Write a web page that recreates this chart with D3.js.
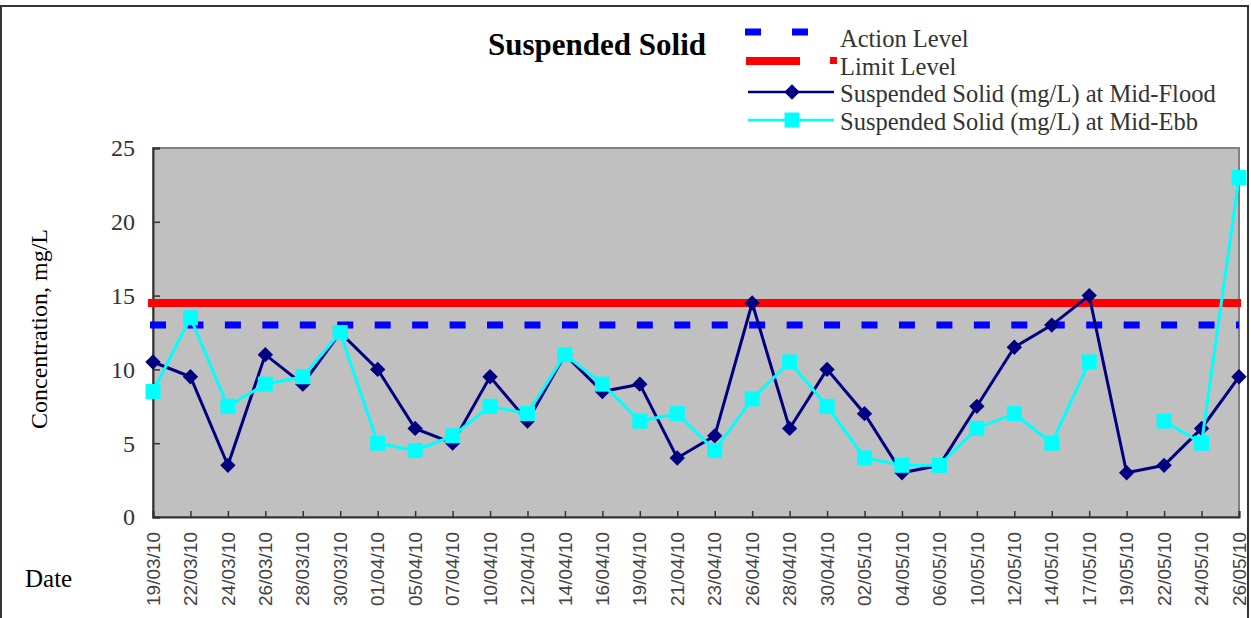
<!DOCTYPE html>
<html>
<head>
<meta charset="utf-8">
<script src="https://cdn.jsdelivr.net/npm/d3@7"></script>
<style>
  body { margin: 0; background: #fff; }
  svg { display: block; }
</style>
</head>
<body>
<div id="chart"></div>
<script>
// data
var dates = ["19/03/10", "22/03/10", "24/03/10", "26/03/10", "28/03/10", "30/03/10",
  "01/04/10", "05/04/10", "07/04/10", "10/04/10", "12/04/10", "14/04/10", "16/04/10",
  "19/04/10", "21/04/10", "23/04/10", "26/04/10", "28/04/10", "30/04/10", "02/05/10",
  "04/05/10", "06/05/10", "10/05/10", "12/05/10", "14/05/10", "17/05/10", "19/05/10",
  "22/05/10", "24/05/10", "26/05/10"];

var midFlood = [10.5, 9.5, 3.5, 11, 9, 12.5, 10, 6, 5, 9.5, 6.5, 11, 8.5, 9, 4, 5.5,
  14.5, 6, 10, 7, 3, 3.5, 7.5, 11.5, 13, 15, 3, 3.5, 6, 9.5];

var midEbb = [8.5, 13.5, 7.5, 9, 9.5, 12.5, 5, 4.5, 5.5, 7.5, 7, 11, 9, 6.5, 7, 4.5,
  8, 10.5, 7.5, 4, 3.5, 3.5, 6, 7, 5, 10.5, null, 6.5, 5, 23];

var actionLevel = 13;
var limitLevel = 14.5;
var yTicks = [0, 5, 10, 15, 20, 25];

var legendLabels = ["Action Level", "Limit Level",
  "Suspended Solid (mg/L) at Mid-Flood", "Suspended Solid (mg/L) at Mid-Ebb"];

var width = 1251, height = 618;
var serif = "'Liberation Serif', 'Times New Roman', serif";

var svg = d3.select("#chart")
  .append("svg")
    .attr("width", width)
    .attr("height", height);

// outer frame
svg.append("rect")
  .attr("x", 1).attr("y", 6)
  .attr("width", 1247).attr("height", 700)
  .attr("fill", "#fff")
  .attr("stroke", "#333")
  .attr("stroke-width", 2);

var x = d3.scalePoint()
  .domain(dates)
  .range([153, 1239]);

var y = d3.scaleLinear()
  .domain([0, 25])
  .range([517, 148]);

// plot area
svg.append("rect")
  .attr("x", x.range()[0]).attr("y", y(25))
  .attr("width", x.range()[1] - x.range()[0])
  .attr("height", y(0) - y(25))
  .attr("fill", "#c0c0c0")
  .attr("stroke", "#808080")
  .attr("stroke-width", 2);

// y axis, ticks pointing inward
var yAxis = svg.append("g")
  .attr("transform", "translate(" + x.range()[0] + ",0)")
  .call(d3.axisRight(y).tickValues(yTicks).tickSize(7).tickFormat(""));
yAxis.select(".domain").attr("stroke", "#333").attr("stroke-width", 2);
yAxis.selectAll(".tick line").attr("stroke", "#333").attr("stroke-width", 1.5);

svg.append("g")
  .selectAll("text")
  .data(yTicks)
  .enter()
  .append("text")
    .attr("x", 135)
    .attr("y", function(d) { return y(d); })
    .attr("dy", "0.35em")
    .attr("text-anchor", "end")
    .attr("font-family", serif)
    .attr("font-size", 24)
    .attr("fill", "#333")
    .text(function(d) { return d; });

// x axis, ticks pointing up into the plot
var xAxis = svg.append("g")
  .attr("transform", "translate(0," + y(0) + ")")
  .call(d3.axisTop(x).tickSize(6).tickFormat(""));
xAxis.select(".domain").attr("stroke", "#333").attr("stroke-width", 2);
xAxis.selectAll(".tick line").attr("stroke", "#333").attr("stroke-width", 1.5);

svg.append("g")
  .selectAll("text")
  .data(dates)
  .enter()
  .append("text")
    .attr("transform", function(d) { return "translate(" + x(d) + ",532) rotate(-90)"; })
    .attr("dy", "0.35em")
    .attr("text-anchor", "end")
    .attr("font-family", "'Liberation Sans', Arial, sans-serif")
    .attr("font-size", 19)
    .attr("fill", "#444")
    .text(function(d) { return d; });

// action level (dashed) and limit level
var step = x.step();
svg.append("line")
  .attr("x1", x(dates[0]) - 3).attr("x2", x(dates[dates.length - 1]))
  .attr("y1", y(actionLevel)).attr("y2", y(actionLevel))
  .attr("stroke", "#0000ff")
  .attr("stroke-width", 7)
  .attr("stroke-dasharray", "16," + (step - 16));

svg.append("line")
  .attr("x1", x.range()[0] - 5).attr("x2", x.range()[1] + 2)
  .attr("y1", y(limitLevel)).attr("y2", y(limitLevel))
  .attr("stroke", "#ff0000")
  .attr("stroke-width", 8);

// series lines
var line = d3.line()
  .defined(function(d) { return d != null; })
  .x(function(d, i) { return x(dates[i]); })
  .y(function(d) { return y(d); });

svg.append("path")
  .datum(midFlood)
  .attr("fill", "none")
  .attr("stroke", "#000080")
  .attr("stroke-width", 3)
  .attr("d", line);

svg.append("g")
  .selectAll("path")
  .data(midFlood)
  .enter()
  .append("path")
    .attr("d", d3.symbol().type(d3.symbolDiamond2).size(150))
    .attr("transform", function(d, i) { return "translate(" + x(dates[i]) + "," + y(d) + ")"; })
    .attr("fill", "#000080");

svg.append("path")
  .datum(midEbb)
  .attr("fill", "none")
  .attr("stroke", "#00ffff")
  .attr("stroke-width", 3)
  .attr("d", line);

svg.append("g")
  .selectAll("rect")
  .data(midEbb.map(function(d, i) { return {v: d, i: i}; }).filter(function(d) { return d.v != null; }))
  .enter()
  .append("rect")
    .attr("x", function(d) { return x(dates[d.i]) - 7.5; })
    .attr("y", function(d) { return y(d.v) - 7.5; })
    .attr("width", 15)
    .attr("height", 15)
    .attr("fill", "#00ffff");

// title
svg.append("text")
  .attr("x", 488).attr("y", 55)
  .attr("font-family", serif)
  .attr("font-size", 31)
  .attr("font-weight", "bold")
  .attr("fill", "#000")
  .text("Suspended Solid");

// axis titles
svg.append("text")
  .attr("transform", "translate(47,329) rotate(-90)")
  .attr("text-anchor", "middle")
  .attr("font-family", serif)
  .attr("font-size", 24)
  .attr("fill", "#000")
  .text("Concentration, mg/L");

svg.append("text")
  .attr("x", 25).attr("y", 587)
  .attr("font-family", serif)
  .attr("font-size", 25)
  .attr("fill", "#000")
  .text("Date");

// legend
var legendY = [32, 61, 92, 120];
var legendText = [47, 75, 102, 130];
var legend = svg.append("g");

legend.append("line")
  .attr("x1", 745).attr("x2", 809)
  .attr("y1", legendY[0]).attr("y2", legendY[0])
  .attr("stroke", "#0000ff").attr("stroke-width", 7)
  .attr("stroke-dasharray", "16,31");

legend.append("line")
  .attr("x1", 746).attr("x2", 800)
  .attr("y1", legendY[1]).attr("y2", legendY[1])
  .attr("stroke", "#ff0000").attr("stroke-width", 8);
legend.append("rect")
  .attr("x", 830).attr("y", legendY[1] - 4)
  .attr("width", 7).attr("height", 7)
  .attr("fill", "#ff0000");

legend.append("line")
  .attr("x1", 748).attr("x2", 834)
  .attr("y1", legendY[2]).attr("y2", legendY[2])
  .attr("stroke", "#000080").attr("stroke-width", 2.5);
legend.append("path")
  .attr("d", d3.symbol().type(d3.symbolDiamond2).size(150))
  .attr("transform", "translate(792," + legendY[2] + ")")
  .attr("fill", "#000080");

legend.append("line")
  .attr("x1", 748).attr("x2", 834)
  .attr("y1", legendY[3]).attr("y2", legendY[3])
  .attr("stroke", "#00ffff").attr("stroke-width", 2.5);
legend.append("rect")
  .attr("x", 784.5).attr("y", legendY[3] - 7.5)
  .attr("width", 15).attr("height", 15)
  .attr("fill", "#00ffff");

legend.selectAll("text")
  .data(legendLabels)
  .enter()
  .append("text")
    .attr("x", 840)
    .attr("y", function(d, i) { return legendText[i]; })
    .attr("font-family", serif)
    .attr("font-size", 24.5)
    .attr("fill", "#333")
    .text(function(d) { return d; });
</script>
</body>
</html>
